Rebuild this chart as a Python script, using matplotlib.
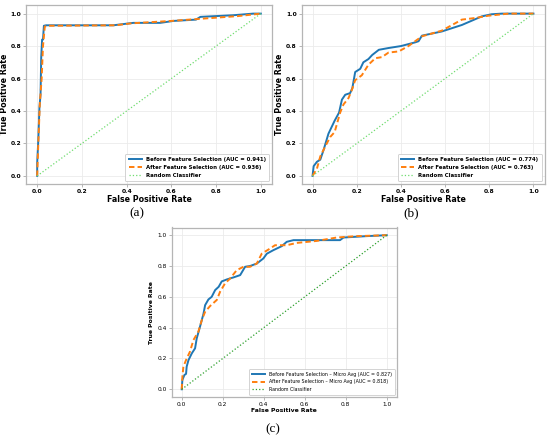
import numpy as np
import matplotlib
matplotlib.use("Agg")
import matplotlib.pyplot as plt

# ROC points, panel (a)
fpr_a_before = [0.0, 0.0, 0.005, 0.01, 0.015, 0.018, 0.022, 0.026, 0.03, 0.04, 0.34, 0.43, 0.55,
                0.61, 0.71, 0.73, 0.876, 0.966, 1.0]
tpr_a_before = [0.0, 0.08, 0.22, 0.42, 0.5, 0.73, 0.84, 0.84, 0.925, 0.928, 0.928, 0.943, 0.943,
                0.955, 0.963, 0.98, 0.99, 1.0, 1.0]
fpr_a_after = [0.0, 0.005, 0.012, 0.02, 0.026, 0.034, 0.045, 0.35, 0.42, 0.6, 0.75, 0.9, 1.0]
tpr_a_after = [0.0, 0.2, 0.45, 0.6, 0.8, 0.92, 0.925, 0.928, 0.94, 0.955, 0.97, 0.985, 1.0]

# panel (b)
fpr_b_before = [0.0, 0.005, 0.02, 0.035, 0.05, 0.072, 0.1, 0.12, 0.133, 0.148, 0.17, 0.18, 0.193,
                0.216, 0.23, 0.253, 0.27, 0.30, 0.344, 0.40, 0.465, 0.48, 0.495, 0.585, 0.676,
                0.766, 0.81, 0.857, 1.0]
tpr_b_before = [0.0, 0.06, 0.087, 0.1, 0.16, 0.26, 0.34, 0.39, 0.47, 0.5, 0.51, 0.54, 0.64,
                0.66, 0.70, 0.72, 0.745, 0.777, 0.788, 0.80, 0.823, 0.83, 0.864, 0.89, 0.93,
                0.983, 0.996, 1.0, 1.0]
fpr_b_after = [0.0, 0.02, 0.035, 0.057, 0.08, 0.1, 0.125, 0.14, 0.163, 0.178, 0.193, 0.223, 0.253,
               0.284, 0.314, 0.344, 0.39, 0.434, 0.495, 0.585, 0.676, 0.736, 0.796, 0.887, 1.0]
tpr_b_after = [0.0, 0.045, 0.12, 0.18, 0.24, 0.27, 0.39, 0.44, 0.48, 0.53, 0.59, 0.62, 0.685,
               0.725, 0.732, 0.76, 0.767, 0.80, 0.86, 0.895, 0.963, 0.973, 0.987, 1.0, 1.0]

# panel (c)
fpr_c_before = [0.0, 0.003, 0.013, 0.021, 0.024, 0.033, 0.049, 0.065, 0.073, 0.089, 0.106, 0.114,
                0.13, 0.146, 0.163, 0.18, 0.195, 0.22, 0.252, 0.285, 0.309, 0.333, 0.366, 0.398,
                0.415, 0.447, 0.488, 0.512, 0.545, 0.659, 0.772, 0.789, 0.902, 1.0]
tpr_c_before = [0.0, 0.06, 0.093, 0.1, 0.147, 0.19, 0.233, 0.266, 0.33, 0.406, 0.49, 0.546,
                0.583, 0.60, 0.644, 0.665, 0.70, 0.713, 0.726, 0.741, 0.795, 0.80, 0.816, 0.849,
                0.88, 0.903, 0.929, 0.957, 0.968, 0.968, 0.968, 0.985, 0.994, 1.0]
fpr_c_after = [0.0, 0.003, 0.008, 0.021, 0.04, 0.057, 0.081, 0.098, 0.114, 0.138, 0.171, 0.187,
               0.211, 0.236, 0.268, 0.301, 0.333, 0.366, 0.39, 0.423, 0.455, 0.512, 0.561, 0.659,
               0.756, 0.854, 1.0]
tpr_c_after = [0.0, 0.08, 0.147, 0.19, 0.244, 0.32, 0.374, 0.45, 0.503, 0.54, 0.58, 0.633,
               0.687, 0.719, 0.773, 0.795, 0.795, 0.816, 0.88, 0.907, 0.935, 0.935, 0.95, 0.963,
               0.985, 0.994, 1.0]

labels_a = ["Before Feature Selection (AUC = 0.941)", "After Feature Selection (AUC = 0.936)"]
labels_b = ["Before Feature Selection (AUC = 0.774)", "After Feature Selection (AUC = 0.763)"]
labels_c = ["Before Feature Selection \u2013 Micro Avg (AUC = 0.827)",
            "After Feature Selection \u2013 Micro Avg (AUC = 0.818)"]
ticks = [0.0, 0.2, 0.4, 0.6, 0.8, 1.0]

W, H = 550, 437
fig = plt.figure(figsize=(W / 100, H / 100), dpi=100)
fig.patch.set_facecolor("white")


def px_axes(left, top, right, bottom):
    return fig.add_axes([left / W, 1 - bottom / H, (right - left) / W, (bottom - top) / H])


def draw_roc(ax, fb, tb, fa, ta, labels, bold=True, rand_color="#6fdc6f", legsize=3.9,
             ticksize=4.3, labsize=5.7, handlelen=2.4, ylabpad=1.2):
    weight = "bold" if bold else "normal"
    ax.plot(fb, tb, color="#1f77b4", lw=1.4, label=labels[0])
    ax.plot(fa, ta, color="#ff7f0e", lw=1.4, ls=(0, (2.8, 1.6)), label=labels[1])
    ax.plot([0, 1], [0, 1], color=rand_color, lw=0.9, ls=":", label="Random Classifier")
    ax.set_xticks(ticks)
    ax.set_yticks(ticks)
    ax.set_xticklabels([f"{t:.1f}" for t in ticks], fontsize=ticksize, fontweight=weight)
    ax.set_yticklabels([f"{t:.1f}" for t in ticks], fontsize=ticksize, fontweight=weight)
    ax.set_xlabel("False Positive Rate", fontsize=labsize, fontweight="bold", labelpad=1)
    ax.set_ylabel("True Positive Rate", fontsize=labsize, fontweight="bold", labelpad=ylabpad)
    ax.tick_params(length=2, width=0.5, color="#999999", pad=1.5)
    ax.grid(True, color="#ebebeb", lw=0.6)
    ax.set_axisbelow(True)
    for s in ax.spines.values():
        s.set_color("#b5b5b5")
        s.set_linewidth(0.9)
    leg = ax.legend(loc="lower right", prop={"size": legsize, "weight": weight},
                    handlelength=handlelen, borderpad=0.6, labelspacing=0.55, framealpha=1,
                    edgecolor="#cccccc", fancybox=True)
    leg.get_frame().set_linewidth(0.6)


ax_a = px_axes(26, 5.5, 272, 184)
draw_roc(ax_a, fpr_a_before, tpr_a_before, fpr_a_after, tpr_a_after, labels_a)
ax_b = px_axes(301.5, 5.5, 544.5, 184)
draw_roc(ax_b, fpr_b_before, tpr_b_before, fpr_b_after, tpr_b_after, labels_b)
ax_c = px_axes(171.5, 227.5, 397, 397)
draw_roc(ax_c, fpr_c_before, tpr_c_before, fpr_c_after, tpr_c_after, labels_c, bold=False,
         rand_color="#2ca02c", legsize=3.4, ticksize=4.2, labsize=4.4, handlelen=2.8, ylabpad=2)

serif = ["Liberation Serif", "DejaVu Serif"]
fig.text(137 / W, 1 - 213 / H, "(a)", ha="center", va="center", fontsize=9.5, family=serif)
fig.text(411 / W, 1 - 213 / H, "(b)", ha="center", va="center", fontsize=9.5, family=serif)
fig.text(273 / W, 1 - 429 / H, "(c)", ha="center", va="center", fontsize=9.5, family=serif)

fig.savefig("out.png", dpi=100, facecolor="white")
